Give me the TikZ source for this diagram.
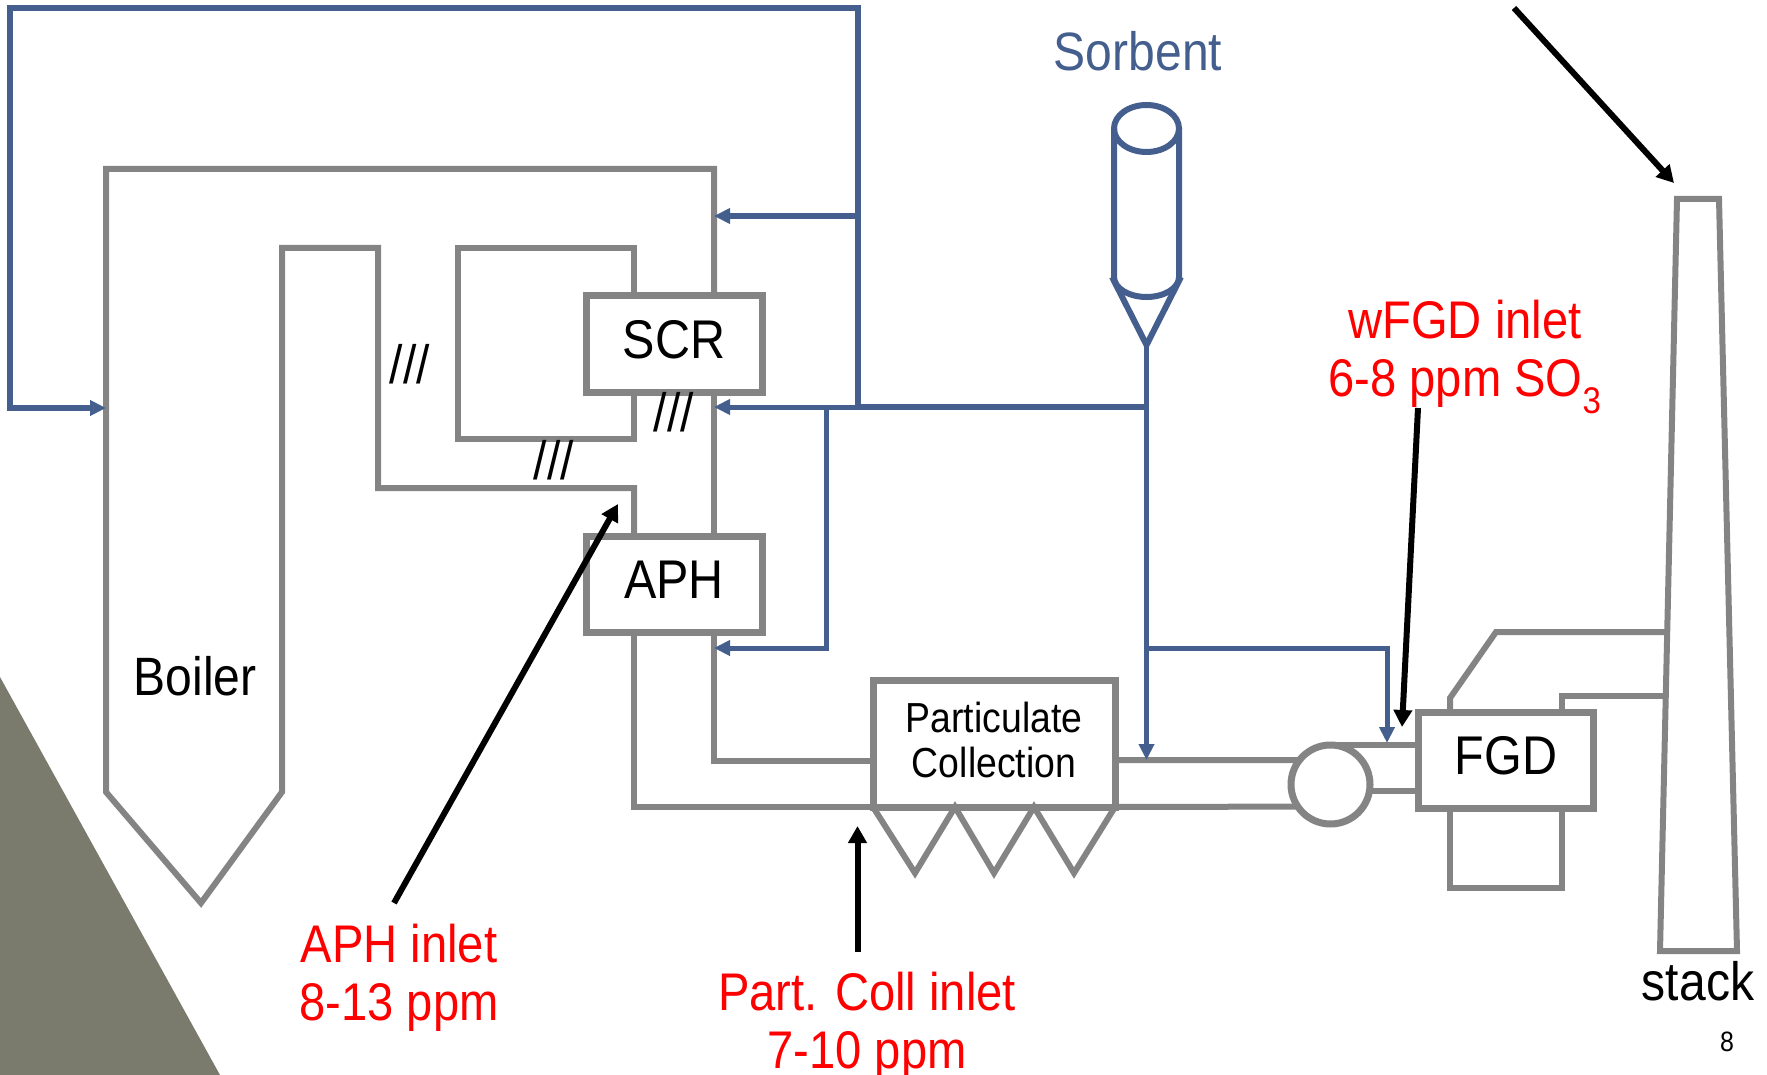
\documentclass[tikz,border=0pt]{standalone}
\usepackage{fontspec}
\setmainfont[FakeStretch=0.89]{Liberation Sans}
\usetikzlibrary{arrows.meta}
\definecolor{duct}{HTML}{848484}
\definecolor{feed}{HTML}{445F8E}
\definecolor{corner}{HTML}{7A7B6D}
\tikzset{
  wall/.style={draw=duct,line width=6pt},
  unit/.style={draw=duct,line width=7pt,fill=white,inner sep=0pt,outer sep=0pt,text depth=9pt,font=\fontsize{54.5}{58}\selectfont},
  pipe/.style={draw=feed,line width=5pt},
  feedarrow/.style={pipe,-{Triangle[length=16pt,width=15pt,sep=0pt]}},
  pointer/.style={draw=black,line width=6pt,-{Triangle[length=17pt,width=18pt]}},
  redlabel/.style={text=red,align=center,font=\fontsize{53}{58.5}\selectfont},
  label/.style={text=black,font=\fontsize{54}{58}\selectfont},
}
\begin{document}
\begin{tikzpicture}[x=1pt,y=-1pt]
\useasboundingbox (0,0) rectangle (1767,1075);
\clip (0,0) rectangle (1767,1075);
\fill[corner] (0,677) -- (220,1075) -- (0,1075) -- cycle;
\node[unit,minimum width=176pt,minimum height=96pt] (scr) at (674,344) {SCR};
\node[unit,minimum width=176pt,minimum height=96pt] (aph) at (674,584) {APH};
\node[unit,minimum width=242pt,minimum height=127pt] (pc) at (994,743.5) {};
\node[unit,minimum width=175pt,minimum height=96pt] (fgd) at (1506,760) {FGD};
\node[unit,shape=circle,minimum size=79pt] (fan) at (1330.5,784.5) {};
\coordinate (wallA) at (634,0);
\coordinate (wallB) at (714,0);
\coordinate (ductA) at (1450,0);
\coordinate (ductB) at (1562,0);
\coordinate (silo) at (1146.5,0);
\coordinate (tee) at (1146.5,407);
\draw[wall] (wallB |- scr.north) -- (714,169) -- (106,169) -- (106,792) -- (201,903) -- (282,792) -- (282,248) -- (378,248) -- (378,488) -- (634,488) -- (wallA |- aph.north);
\draw[wall] (wallA |- scr.north) -- (634,248) -- (458,248) -- (458,439) -- (634,439) -- (wallA |- scr.south);
\draw[wall] (wallB |- scr.south) -- (wallB |- aph.north);
\draw[wall] (wallB |- aph.south) -- (714,761) -- (pc.west |- 0,761);
\draw[wall] (wallA |- aph.south) -- (634,807) -- (pc.south west);
\draw[wall] (pc.east |- 0,760) -- (fan.142);
\draw[wall] (pc.south east) -- (fan.214);
\draw[wall] (fan.north) -- (fgd.west |- fan.north);
\draw[wall] (fan.351) -- (fgd.west |- fan.351);
\draw[wall] (pc.south west) \foreach \tipx/\topx in {915/955,994/1034,1074/1115} { -- (\tipx,873) -- (\topx,807) };
\draw[wall] (ductA |- fgd.south) -- (1450,888) -- (1562,888) -- (ductB |- fgd.south);
\draw[wall] (ductA |- fgd.north) -- (1450,698) -- (1496,632) -- (1667,632);
\draw[wall] (ductB |- fgd.north) -- (1562,696) -- (1666,696);
\draw[wall] (1677,199) -- (1719,199) -- (1737,951) -- (1660,951) -- cycle;
\draw[pipe,line width=6pt] (1114,128) -- (1114,277) arc (180:0:32.5 and 20) -- (1179,128);
\draw[pipe,line width=6pt] (1146.5,128.5) ellipse (32.5 and 23.5);
\draw[pipe,line width=6pt] (1112,277) -- (1146.5,345) -- (1181,277);
\draw[pipe] (silo |- 0,345) -- (tee);
\draw[feedarrow,line width=6pt] (858,407) -- (858,8) -- (10,8) -- (10,408) -- (106,408);
\draw[feedarrow,line width=6pt] (858,216) -- (wallB |- 0,216);
\draw[pipe,line width=6pt] (tee) -- (858,407);
\draw[feedarrow] (858,407) -- (wallB |- 0,407);
\draw[feedarrow] (826,407) -- (826,648) -- (wallB |- 0,648);
\draw[feedarrow] (tee) -- (silo |- 0,760);
\draw[feedarrow] (1146.5,648) -- (1387,648) -- (1387,743);
\node[align=center,font=\fontsize{42}{45}\selectfont] (pctext) at (994,740) {Particulate\\Collection};
\node[label] (boiler) at (195,676) {Boiler};
\node[label] (stack) at (1698,981) {stack};
\node[label,text=feed] (sorbent) at (1138,51) {Sorbent};
\node[label] (slashA) at (410,364) {///};
\node[label] (slashB) at (674,412) {///};
\node[label] (slashC) at (554,460) {///};
\node[font=\fontsize{28}{30}\selectfont] (pagenum) at (1727,1042) {8};
\node[redlabel] (aphlabel) at (399,978) {APH inlet\\8-13 ppm};
\node[redlabel] (pclabel) at (867,1026) {Part. Coll inlet\\7-10 ppm};
\node[redlabel] (fgdlabel) at (1465,357) {wFGD inlet\\6-8 ppm SO\textsubscript{3}};
\coordinate (sky) at (1514,8);
\draw[pointer] (394,903) -- (618,504);
\draw[pointer] (857.5,952) -- (857.5,826);
\draw[pointer] (1418,408) -- (1402,727);
\draw[pointer] (sky) -- (1674,183);
\end{tikzpicture}
\end{document}
